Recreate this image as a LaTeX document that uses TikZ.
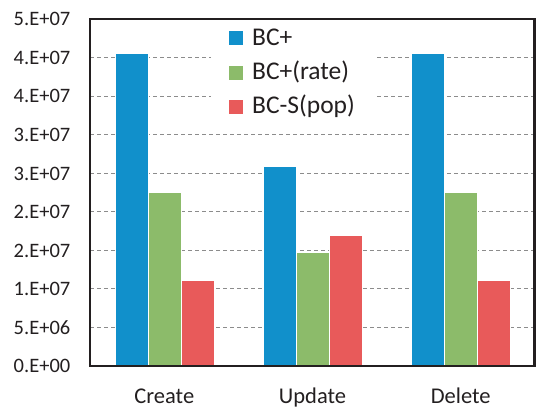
\documentclass[tikz,border=0pt]{standalone}
\usepackage{fontspec}
\setmainfont{Carlito}
\definecolor{txt}{RGB}{35,31,32}
\definecolor{gridgray}{RGB}{140,140,140}
\definecolor{bcplus}{RGB}{17,144,203}
\definecolor{bcrate}{RGB}{140,187,106}
\definecolor{bcspop}{RGB}{232,90,90}
\begin{document}
\begin{tikzpicture}[x=1pt,y=-1pt,
  gridline/.style={draw=gridgray, line width=0.9pt, dash pattern=on 4pt off 3pt},
  bar/.style={draw=white, line width=0.5pt},
  frame/.style={draw=txt, line width=2.4pt},
  ticklab/.style={anchor=base east, inner sep=0pt, text=txt, font=\fontsize{20.5}{24}\selectfont},
  catlab/.style={anchor=base, inner sep=0pt, text=txt, font=\fontsize{22.5}{26}\selectfont},
  leglab/.style={anchor=base west, inner sep=0pt, text=txt, font=\fontsize{25.5}{30}\selectfont},
  legkey/.style={minimum size=14pt, inner sep=0pt, draw=none}]
\useasboundingbox (0,0) rectangle (536,408);

% scale: 5e6 per 38.56pt, zero line at y=366
\def\ppu{7.711}% pt per 1e6

% horizontal grid
\foreach \k in {1,...,9}
  \draw[gridline] (90,{366-\k*38.56}) -- (534,{366-\k*38.56});

% legend background
\fill[white] (211,20) rectangle (374,122);

% bars: groups centred at 164.3, 312.5, 460.7; bar width 33
\foreach \cx/\a/\b/\c in {164.3/40.5/22.5/11.1, 312.5/25.9/14.7/16.9, 460.7/40.5/22.5/11.1}{
  \filldraw[bar, fill=bcplus] ({\cx-49.5},366) rectangle ({\cx-16.5},{366-\a*\ppu});
  \filldraw[bar, fill=bcrate] ({\cx-16.5},366) rectangle ({\cx+16.5},{366-\b*\ppu});
  \filldraw[bar, fill=bcspop] ({\cx+16.5},366) rectangle ({\cx+49.5},{366-\c*\ppu});
}

% plot frame
\draw[frame] (90,19) rectangle (534.5,366);

% tick labels
\foreach \k/\t in {0/0.E+00,1/5.E+06,2/1.E+07,3/2.E+07,4/2.E+07,5/3.E+07,6/3.E+07,7/4.E+07,8/4.E+07,9/5.E+07}
  \node[ticklab] (tick\k) at (70.5,{366-\k*38.56+6.8}) {\t};

% category labels
\node[catlab] (catcreate) at (164.3,403.5) {Create};
\node[catlab] (catupdate) at (312.5,403.5) {Update};
\node[catlab] (catdelete) at (460.7,403.5) {Delete};

% legend
\node[legkey, fill=bcplus] (key1) at (236,38) {};
\node[legkey, fill=bcrate] (key2) at (236,72.5) {};
\node[legkey, fill=bcspop] (key3) at (236,106.5) {};
\node[leglab] (leg1) at (252,45) {BC+};
\node[leglab] (leg2) at (252,79.3) {BC+(rate)};
\node[leglab] (leg3) at (252,113.3) {BC-S(pop)};
\end{tikzpicture}
\end{document}
